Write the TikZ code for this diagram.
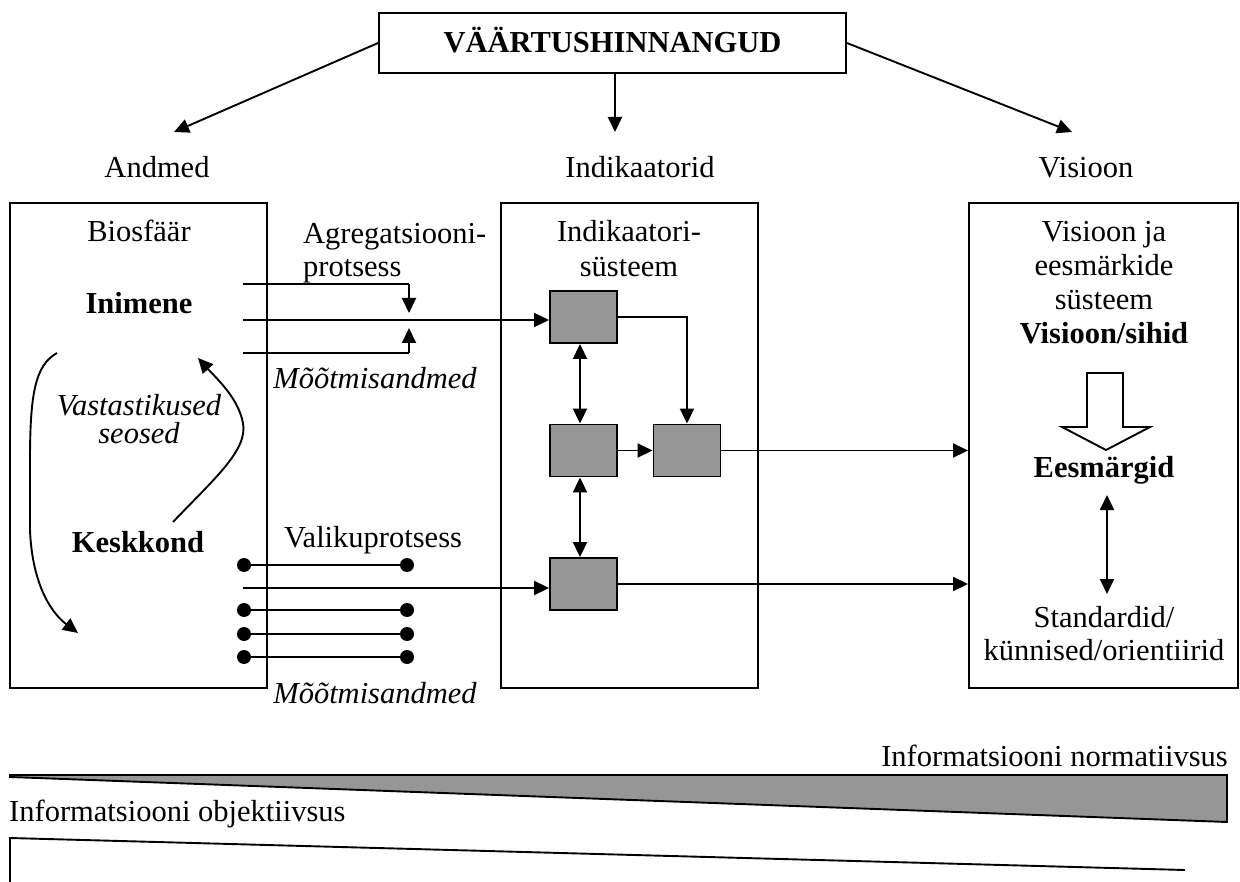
\documentclass[tikz,border=0pt]{standalone}
\usepackage{fontspec}
\setmainfont{Liberation Serif}
\usetikzlibrary{arrows.meta}
\definecolor{boxgray}{RGB}{150,150,150}
\begin{document}
\begin{tikzpicture}[x=1pt,y=-1pt,
  t/.style={font=\fontsize{30.5pt}{34pt}\selectfont, inner sep=0pt, anchor=base},
  tb/.style={t, font=\fontsize{30.5pt}{34pt}\selectfont\bfseries},
  ti/.style={t, font=\fontsize{30.5pt}{34pt}\selectfont\itshape},
  frame/.style={draw, line width=1.9pt, inner sep=0pt},
  gbox/.style={draw, line width=1.9pt, fill=boxgray, minimum width=67pt, minimum height=52pt, inner sep=0pt},
  conn/.style={line width=1.9pt},
  arr/.style={line width=1.9pt, -{Triangle[length=15pt, width=14pt]}},
  darr/.style={line width=1.9pt, {Triangle[length=15pt, width=14pt]}-{Triangle[length=15pt, width=14pt]}},
  dot/.style={circle, fill=black, minimum size=14pt, inner sep=0pt},
]
\useasboundingbox (0,0) rectangle (1240,882);

% top box
\node[frame, minimum width=467pt, minimum height=60pt] (top) at (612.5,43) {};
\node[tb] (toptxt) at (612.5,53) {VÄÄRTUSHINNANGUD};

\coordinate (tipL) at (174,132);
\coordinate (tipM) at (615,132);
\coordinate (tipR) at (1072,132);
\draw[arr] (top.west) -- (tipL);
\draw[arr] (top.south -| tipM) -- (tipM);
\draw[arr] (top.east) -- (tipR);

\node[t] (andmed) at (157,178) {Andmed};
\node[t] (indik) at (640,178) {Indikaatorid};
\node[t] (vis) at (1086,178) {Visioon};

% three frames
\node[frame, minimum width=257pt, minimum height=485pt] (lbox) at (138.5,445.5) {};
\node[frame, minimum width=257pt, minimum height=485pt] (mbox) at (629.5,445.5) {};
\node[frame, minimum width=269pt, minimum height=485pt] (rbox) at (1103.5,445.5) {};

% left box texts
\node[t] (bio) at (139,242) {Biosfäär};
\node[tb] (inim) at (139,314) {Inimene};
\node[ti] (vast1) at (139,416) {Vastastikused};
\node[ti] (vast2) at (139,444) {seosed};
\node[tb] (kesk) at (138,552) {Keskkond};

% curved arrows
\coordinate (c1s) at (57,353);
\coordinate (c1e) at (78,633);
\draw[arr] (c1s) .. controls (35,365) and (30,395) .. (30,460)
  -- (30,530) .. controls (32,582) and (50,612) .. (c1e);
\coordinate (c2s) at (173,522);
\coordinate (c2m) at (243,423);
\coordinate (c2e) at (198,358);
\draw[arr] (c2s) .. controls (215,478) and (248,450) .. (c2m)
  .. controls (238,398) and (218,380) .. (c2e);

% aggregation process
\node[t, anchor=base west] (agr1) at (303,244) {Agregatsiooni-};
\node[t, anchor=base west] (agr2) at (303,277) {protsess};
\coordinate (l1s) at (243,284);
\coordinate (l1e) at (409,284);
\coordinate (l1t) at (409,313);
\coordinate (l2s) at (243,320);
\coordinate (l3s) at (243,353);
\coordinate (l3e) at (409,353);
\coordinate (l3t) at (409,328);
\draw[conn] (l1s) -- (l1e);
\draw[arr] (l1e) -- (l1t);
\draw[conn] (l3s) -- (l3e);
\draw[arr] (l3e) -- (l3t);
\node[ti] (moot1) at (375,389) {Mõõtmisandmed};

% indicator system
\node[t] (ind1) at (629,242) {Indikaatori-};
\node[t] (ind2) at (629,277) {süsteem};
\node[gbox] (A) at (583.5,317) {};
\node[gbox] (B) at (583.5,450.5) {};
\node[gbox] (C) at (687,450.5) {};
\node[gbox] (D) at (583.5,584) {};

\draw[arr] (l2s) -- (l2s -| A.west);
\draw[arr] (A.east) -| (C.north);
\draw[darr] (A.south -| 580,0) -- (B.north -| 580,0);
\draw[darr] (B.south -| 580,0) -- (D.north -| 580,0);
\draw[arr] (B.east) -- (C.west);
\draw[arr] (C.east) -- (C.east -| rbox.west);

% selection process
\node[t] (vali) at (373,547) {Valikuprotsess};
\node[dot] (p1a) at (244,565) {};
\node[dot] (p1b) at (407,565) {};
\node[dot] (p2a) at (244,610) {};
\node[dot] (p2b) at (407,610) {};
\node[dot] (p3a) at (244,634) {};
\node[dot] (p3b) at (407,634) {};
\node[dot] (p4a) at (244,657) {};
\node[dot] (p4b) at (407,657) {};
\draw[conn] (p1a.center) -- (p1b.center);
\draw[conn] (p2a.center) -- (p2b.center);
\draw[conn] (p3a.center) -- (p3b.center);
\draw[conn] (p4a.center) -- (p4b.center);
\coordinate (l4s) at (243,588);
\draw[arr] (l4s) -- (l4s -| D.west);
\draw[arr] (D.east) -- (D.east -| rbox.west);
\node[ti] (moot2) at (375,703) {Mõõtmisandmed};

% vision box
\node[t] (v1) at (1104,242) {Visioon ja};
\node[t] (v2) at (1104,276) {eesmärkide};
\node[t] (v3) at (1104,310) {süsteem};
\node[tb] (v4) at (1104,344) {Visioon/sihid};
\draw[line width=1.9pt, fill=white, line join=miter]
  (1087,373) -- (1123,373) -- (1123,427) -- (1150,427) -- (1106,450)
  -- (1062,427) -- (1087,427) -- cycle;
\node[tb] (ees) at (1104,477) {Eesmärgid};
\node[t] (std1) at (1104,627) {Standardid/};
\node[t] (std2) at (1104,660) {künnised/orientiirid};
\coordinate (e1) at (1107,495);
\coordinate (e2) at (1107,594);
\draw[darr] (e1) -- (e2);

% bottom wedges
\node[t, anchor=base east] (norm) at (1228,766) {Informatsiooni normatiivsus};
\draw[line width=1.9pt, fill=boxgray, line join=miter]
  (10,775) -- (1227,775) -- (1227,822) -- (10,777) -- cycle;
\node[t, anchor=base west] (obj) at (9,821) {Informatsiooni objektiivsus};
\draw[line width=1.9pt] (10,882) -- (10,838) -- (1185,870);
\end{tikzpicture}
\end{document}
